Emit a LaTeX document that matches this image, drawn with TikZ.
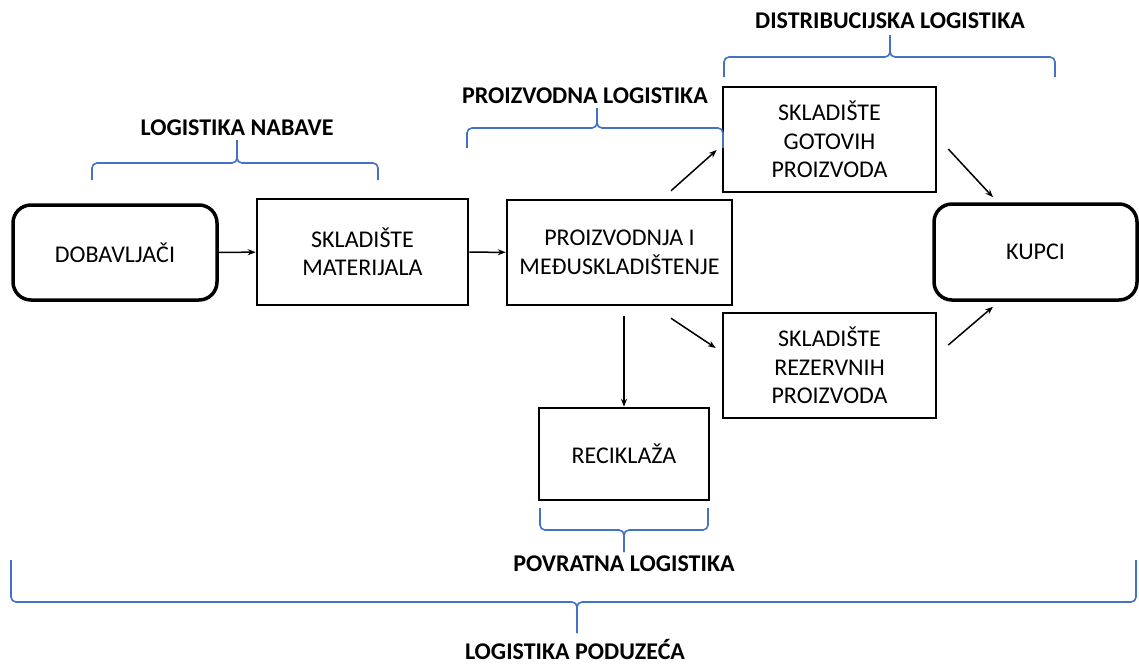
\documentclass[tikz,border=0pt]{standalone}
\usepackage{fontspec}
\setmainfont{Carlito}
\usetikzlibrary{arrows.meta,calc}
\definecolor{bracblue}{RGB}{68,114,196}

\begin{document}
\begin{tikzpicture}[x=1pt, y=-1pt, >={Stealth[length=8pt,width=6pt]},
    box/.style={draw, line width=2.5pt, align=center, inner sep=0pt,
        font=\fontsize{24}{28.5}\selectfont},
    endbox/.style={box, line width=3.5pt, rounded corners=18pt},
    arr/.style={->, line width=1.5pt},
    brc/.style={draw=bracblue, line width=1.6pt, rounded corners=5pt},
    lbl/.style={font=\fontsize{24}{28}\selectfont\bfseries}]
    \useasboundingbox (0,0) rectangle (1139,664);

    % Main chain of boxes
    \node[endbox, minimum width=204, minimum height=95] (dob) at (115,252.5) {DOBAVLJAČI};
    \node[box, minimum width=211, minimum height=106] (skmat) at (362.5,252) {SKLADIŠTE\\MATERIJALA};
    \node[box, minimum width=225, minimum height=105] (proiz) at (619.5,252.5) {PROIZVODNJA I\\MEĐUSKLADIŠTENJE};
    \node[box, minimum width=213, minimum height=105] (gotovi) at (829.5,139.5) {SKLADIŠTE\\GOTOVIH\\PROIZVODA};
    \node[box, minimum width=213, minimum height=105] (rezerv) at (829.5,365.5) {SKLADIŠTE\\REZERVNIH\\PROIZVODA};
    \node[endbox, minimum width=203, minimum height=96] (kupci) at (1035.5,252) {KUPCI};
    \node[box, minimum width=170, minimum height=92] (recik) at (624,454) {RECIKLAŽA};

    % Arrows between the boxes
    \draw[arr] (dob) -- (skmat);
    \draw[arr] (skmat) -- (proiz);
    \draw[arr] ([shift={(51.5,-8)}]proiz.north) -- ([shift={(-5,10.5)}]gotovi.west);
    \draw[arr] ([shift={(51.5,12)}]proiz.south) -- ([shift={(-6,-17.5)}]rezerv.west);
    \draw[arr] ($(proiz.south -| recik.north)+(0,10)$) -- (recik.north);
    \draw[arr] ([shift={(11,9.5)}]gotovi.east) -- ([shift={(-42.5,-5)}]kupci.north);
    \draw[arr] ([shift={(11,-20.5)}]rezerv.east) -- ([shift={(-42.5,5)}]kupci.south);

    % Braces with their labels
    \draw[brc] (92,180) -- (92,163) -- (237,163) -- (237,140);
    \draw[brc] (378,180) -- (378,163) -- (237,163) -- (237,140);
    \node[lbl] (nabava) at (237,128) {LOGISTIKA NABAVE};

    \draw[brc] (467,148) -- (467,128) -- (597,128) -- (597,108);
    \draw[brc] (723,148) -- (723,128) -- (597,128) -- (597,108);
    \node[lbl] (proizvodna) at (585,96) {PROIZVODNA LOGISTIKA};

    \draw[brc] (724,77) -- (724,57) -- (890,57) -- (890,35);
    \draw[brc] (1055,77) -- (1055,57) -- (890,57) -- (890,35);
    \node[lbl] (distribucija) at (890,21) {DISTRIBUCIJSKA LOGISTIKA};

    \draw[brc] (540,508) -- (540,530) -- (624,530) -- (624,552);
    \draw[brc] (708,508) -- (708,530) -- (624,530) -- (624,552);
    \node[lbl] (povratna) at (624,564) {POVRATNA LOGISTIKA};

    \draw[brc] (11,560) -- (11,602) -- (577,602) -- (577,633);
    \draw[brc] (1136,560) -- (1136,602) -- (577,602) -- (577,633);
    \node[lbl, anchor=base] (poduzece) at (575,659) {LOGISTIKA PODUZEĆA};
\end{tikzpicture}
\end{document}
